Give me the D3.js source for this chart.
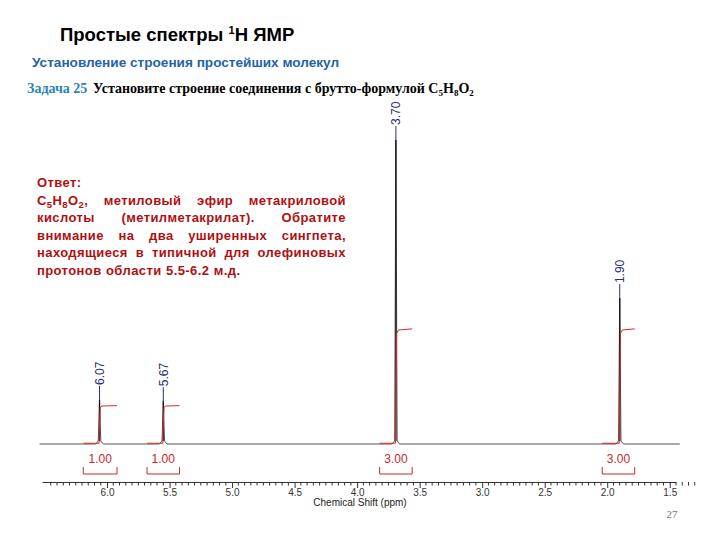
<!DOCTYPE html>
<html><head><meta charset="utf-8">
<script src="https://cdn.jsdelivr.net/npm/d3@7"></script>
<style>
html,body{margin:0;padding:0;background:#fff;}
svg{display:block;}
</style></head>
<body>
<svg id="c" width="720" height="540"></svg>
<script>
// ---- data ----
const peakShifts = [6.06, 5.55, 3.69, 1.90];          // position on axis (ppm)
const peakLabels = ["6.07", "5.67", "3.70", "1.90"];   // printed peak labels
const peakHeights = [14.5, 14.1, 100, 48];             // relative intensity
const integralValues = [1.00, 1.00, 3.00, 3.00];
const integralLabels = ["1.00", "1.00", "3.00", "3.00"];
const integralStart = [6.19, 5.68, 3.82, 2.04];
const integralEnd = [5.92, 5.42, 3.56, 1.78];
const axisTicks = [6.0, 5.5, 5.0, 4.5, 4.0, 3.5, 3.0, 2.5, 2.0, 1.5];
const axisTickLabels = ["6.0", "5.5", "5.0", "4.5", "4.0", "3.5", "3.0", "2.5", "2.0", "1.5"];
const answerLines = [
  "Ответ:",
  "C5H8O2, метиловый эфир метакриловой",
  "кислоты (метилметакрилат). Обратите",
  "внимание на два уширенных сингпета,",
  "находящиеся в типичной для олефиновых",
  "протонов области 5.5-6.2 м.д."
];

const svg = d3.select("#c");

// ---- scales ----
const x = d3.scaleLinear().domain([6.52, 1.45]).range([42, 676]);
const y = d3.scaleLinear().domain([0, 100]).range([444, 140]);
const yInt = d3.scaleLinear().domain([0, 1]).range([444, 406]);

// ---- titles ----
const t = svg.append("text").attr("x", 60).attr("y", 41)
  .attr("font-family", "Liberation Sans, Arial, sans-serif").attr("font-weight", "bold")
  .attr("font-size", 18.5).attr("fill", "#000");
t.append("tspan").text("Простые спектры ");
t.append("tspan").attr("font-size", 11).attr("dy", -7).text("1");
t.append("tspan").attr("dy", 7).text("H ЯМР");

svg.append("text").attr("x", 32).attr("y", 67)
  .attr("font-family", "Liberation Sans, Arial, sans-serif").attr("font-weight", "bold")
  .attr("font-size", 13.6).attr("fill", "#2563a6")
  .text("Установление строения простейших молекул");

svg.append("text").attr("x", 27).attr("y", 93)
  .attr("font-family", "Liberation Serif, Times New Roman, serif").attr("font-weight", "bold")
  .attr("font-size", 14).attr("fill", "#2b83b8").text("Задача 25");
const t2 = svg.append("text").attr("x", 93).attr("y", 93)
  .attr("font-family", "Liberation Serif, Times New Roman, serif").attr("font-weight", "bold")
  .attr("font-size", 14).attr("fill", "#000");
t2.append("tspan").text("Установите строение соединения с брутто-формулой C");
t2.append("tspan").attr("font-size", 9).attr("dy", 3).text("5");
t2.append("tspan").attr("dy", -3).text("H");
t2.append("tspan").attr("font-size", 9).attr("dy", 3).text("8");
t2.append("tspan").attr("dy", -3).text("O");
t2.append("tspan").attr("font-size", 9).attr("dy", 3).text("2");

// ---- answer text (justified) ----
const ansG = svg.append("g").attr("font-family", "Liberation Sans, Arial, sans-serif")
  .attr("font-weight", "bold").attr("font-size", 13).attr("letter-spacing", 0.4)
  .attr("fill", "#b01010");
const left = 37, right = 346, lh = 17.5, base0 = 187;
function renderWord(g, word, yy) {
  const tx = g.append("text").attr("x", 0).attr("y", yy);
  if (/^C\d/.test(word)) {
    const parts = word.match(/[A-Za-z]+|\d+|[^A-Za-z\d]+/g);
    let sub = false;
    parts.forEach(p => {
      if (/^\d+$/.test(p)) {
        tx.append("tspan").attr("font-size", 9.5).attr("dy", sub ? 0 : 3).text(p); sub = true;
      } else {
        tx.append("tspan").attr("dy", sub ? -3 : 0).text(p); sub = false;
      }
    });
  } else tx.text(word);
  return tx;
}
answerLines.forEach((line, i) => {
  const yy = base0 + i * lh;
  const words = line.split(" ");
  const nodes = words.map(w => renderWord(ansG, w, yy));
  const widths = nodes.map(n => n.node().getComputedTextLength());
  const total = d3.sum(widths);
  const justify = i > 0 && i < answerLines.length - 1 && words.length > 1;
  const gap = justify ? (right - left - total) / (words.length - 1) : 4.5;
  let cx = left;
  nodes.forEach((n, k) => { n.attr("x", cx); cx += widths[k] + gap; });
});

// ---- spectrum ----
let pts = [[6.54, 0]];
peakShifts.forEach((p, i) => {
  pts.push([p + 0.03, 0], [p + 0.01, 1], [p, peakHeights[i]], [p - 0.01, 1], [p - 0.03, 0]);
});
pts.push([1.42, 0]);
pts.sort((a, b) => b[0] - a[0]);
svg.append("path").datum(pts)
  .attr("d", d3.line().x(d => x(d[0])).y(d => y(d[1])))
  .attr("fill", "none").attr("stroke", "#555").attr("stroke-width", 1);
peakShifts.forEach((p, i) => {
  svg.append("line").attr("x1", x(p)).attr("x2", x(p))
    .attr("y1", y(peakHeights[i])).attr("y2", y(1))
    .attr("stroke", "#111").attr("stroke-width", 1.2);
});

// ---- integral curves ----
peakShifts.forEach((p, i) => {
  const v = integralValues[i];
  const ip = [[integralStart[i], 0.02], [p + 0.004, 0.02], [p, v * 0.5], [p - 0.006, v * 0.97], [p - 0.02, v], [integralEnd[i], v * 1.01]];
  svg.append("path").datum(ip)
    .attr("d", d3.line().x(d => x(d[0])).y(d => yInt(d[1])))
    .attr("fill", "none").attr("stroke", "#d42a2a").attr("stroke-width", 1);
});

// ---- peak labels ----
peakShifts.forEach((p, i) => {
  const top = y(peakHeights[i]);
  const ly = top - 14;
  svg.append("line").attr("x1", x(p)).attr("x2", x(p)).attr("y1", ly).attr("y2", top)
    .attr("stroke", "#2b2b7a").attr("stroke-width", 1);
  svg.append("text")
    .attr("transform", `translate(${x(p) + 4.5},${ly - 1}) rotate(-90)`)
    .attr("font-family", "Liberation Sans, Arial, sans-serif").attr("font-size", 12)
    .attr("fill", "#2b2b7a").text(peakLabels[i]);
});

// ---- integration brackets ----
peakShifts.forEach((p, i) => {
  const x1 = x(integralStart[i]), x2 = x(integralEnd[i]);
  svg.append("path")
    .attr("d", `M${x1},467V474H${x2}V467`)
    .attr("fill", "none").attr("stroke", "#c8282a").attr("stroke-width", 1);
  svg.append("text").attr("x", (x1 + x2) / 2).attr("y", 463)
    .attr("text-anchor", "middle")
    .attr("font-family", "Liberation Sans, Arial, sans-serif").attr("font-size", 12)
    .attr("fill", "#c8282a").text(integralLabels[i]);
});

// ---- axis ----
const axis = d3.axisBottom(x).tickValues(axisTicks)
  .tickFormat((d, i) => axisTickLabels[i]).tickSize(6).tickSizeOuter(0);
const ag = svg.append("g").attr("transform", "translate(0,482)").call(axis);
ag.select(".domain").attr("stroke", "#333");
ag.selectAll(".tick line").attr("stroke", "#333");
ag.selectAll(".tick text").attr("font-family", "Liberation Sans, Arial, sans-serif")
  .attr("font-size", 10).attr("fill", "#333").attr("dy", "0.5em");
const minor = d3.range(130, 653, 5).map(v => v / 100).filter(v => Math.abs(v * 2 - Math.round(v * 2)) > 1e-6);
ag.selectAll(".minor").data(minor).enter().append("line")
  .attr("x1", d => x(d)).attr("x2", d => x(d)).attr("y1", 0).attr("y2", 3.5)
  .attr("stroke", "#333");
svg.append("text").attr("x", 360).attr("y", 506).attr("text-anchor", "middle")
  .attr("font-family", "Liberation Sans, Arial, sans-serif").attr("font-size", 10)
  .attr("fill", "#222").text("Chemical Shift (ppm)");

// ---- page number ----
svg.append("text").attr("x", 672).attr("y", 518).attr("text-anchor", "middle")
  .attr("font-family", "Liberation Serif, Times New Roman, serif").attr("font-size", 11)
  .attr("fill", "#777").text("27");
</script>
</body></html>
